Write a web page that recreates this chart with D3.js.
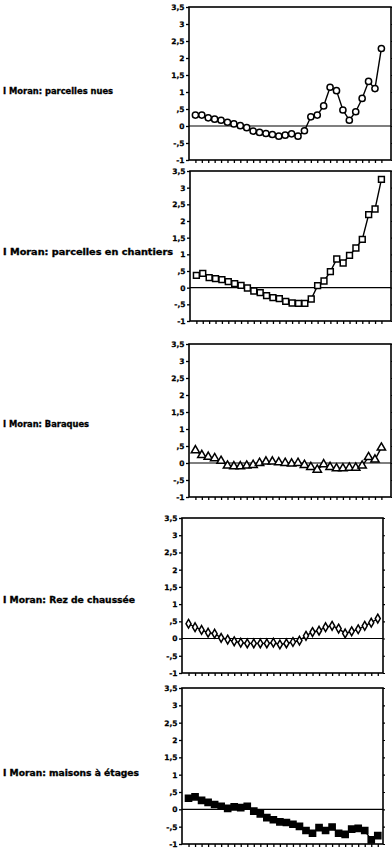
<!DOCTYPE html>
<html>
<head>
<meta charset="utf-8">
<script src="https://cdn.jsdelivr.net/npm/d3@7"></script>
<style>
  html, body { margin: 0; padding: 0; background: #fff; }
  svg { display: block; }
  text { font-family: "DejaVu Sans", sans-serif; font-weight: bold; fill: #000; }
</style>
</head>
<body>
<svg id="chart" width="392" height="850"></svg>
<script>
// Spatial lag classes (x axis)
const lags = [1,2,3,4,5,6,7,8,9,10,11,12,13,14,15,16,17,18,19,20,21,22,23,24,25,26,27,28,29,30];

// Moran's I per lag, one array per land-use type
const parcellesNues = [0.32,0.32,0.24,0.2,0.17,0.11,0.06,0.01,-0.05,-0.15,-0.19,-0.22,-0.25,-0.3,-0.27,-0.23,-0.3,-0.14,0.27,0.32,0.59,1.14,1.04,0.47,0.17,0.42,0.81,1.31,1.1,2.28];
const parcellesChantiers = [0.37,0.43,0.3,0.27,0.24,0.18,0.12,0.07,-0.01,-0.1,-0.15,-0.24,-0.3,-0.33,-0.41,-0.46,-0.47,-0.47,-0.34,0.06,0.2,0.48,0.86,0.74,0.97,1.19,1.45,2.19,2.36,3.25];
const baraques = [0.37,0.23,0.18,0.14,0.06,-0.08,-0.1,-0.1,-0.08,-0.06,0,0.04,0.04,0.02,0,-0.02,0,-0.06,-0.12,-0.2,-0.04,-0.12,-0.16,-0.16,-0.14,-0.14,-0.08,0.17,0.1,0.45];
const rezChaussee = [0.43,0.33,0.25,0.17,0.14,0.02,-0.03,-0.08,-0.12,-0.14,-0.14,-0.14,-0.14,-0.12,-0.17,-0.14,-0.1,-0.06,0.08,0.19,0.23,0.33,0.37,0.29,0.15,0.21,0.27,0.37,0.46,0.58];
const maisonsEtages = [0.32,0.36,0.26,0.2,0.14,0.09,0.03,0.07,0.05,0.09,-0.05,-0.13,-0.24,-0.3,-0.36,-0.38,-0.43,-0.49,-0.61,-0.69,-0.53,-0.61,-0.51,-0.69,-0.72,-0.57,-0.55,-0.61,-0.88,-0.76];

const seriesNames = [
  "I Moran: parcelles nues",
  "I Moran: parcelles en chantiers",
  "I Moran: Baraques",
  "I Moran: Rez de chaussée",
  "I Moran: maisons à étages"
];

// y axis ticks and their printed labels
const yTickValues = [3.5, 3, 2.5, 2, 1.5, 1, 0.5, 0, -0.5, -1];
const yTickLabels = ["3,5", "3", "2,5", "2", "1,5", "1", ",5", "0", "-,5", "-1"];

// Panel layout: frame box, label placement, marker style
const panels = [
  { values: parcellesNues,      left: 189, right: 391, top: 7,   bottom: 160, xMax: 31.5, labelY: 94,  labelW: 110, symbol: d3.symbolCircle,   size: 30, fill: "#fff" },
  { values: parcellesChantiers, left: 190, right: 391, top: 171, bottom: 321, xMax: 31.5, labelY: 255, labelW: 170, symbol: d3.symbolSquare,   size: 34, fill: "#fff" },
  { values: baraques,           left: 189, right: 391, top: 344, bottom: 497, xMax: 31.5, labelY: 427, labelW: 86,  symbol: d3.symbolTriangle, size: 30, fill: "#fff" },
  { values: rezChaussee,        left: 182, right: 383, top: 518, bottom: 673, xMax: 30.8, labelY: 603, labelW: 132, symbol: d3.symbolDiamond,  size: 22, fill: "#fff" },
  { values: maisonsEtages,      left: 182, right: 383, top: 688, bottom: 844, xMax: 30.8, labelY: 776, labelW: 136, symbol: d3.symbolSquare,   size: 38, fill: "#000" }
];

const svg = d3.select("#chart");

panels.forEach((p, i) => {
  const x = d3.scaleLinear().domain([0, p.xMax]).range([p.left, p.right]);
  const y = d3.scaleLinear().domain([-1, 3.5]).range([p.bottom, p.top]);
  const g = svg.append("g");

  // series label on the left
  g.append("text")
    .attr("x", 3)
    .attr("y", p.labelY)
    .attr("font-size", 8)
    .attr("textLength", p.labelW)
    .attr("lengthAdjust", "spacingAndGlyphs")
    .attr("stroke", "#000")
    .attr("stroke-width", 0.3)
    .text(seriesNames[i]);

  // left axis
  const yAxis = d3.axisLeft(y)
    .tickValues(yTickValues)
    .tickFormat((d, k) => yTickLabels[k])
    .tickSize(3)
    .tickPadding(1.5);
  const ya = g.append("g").attr("transform", `translate(${p.left},0)`).call(yAxis);
  ya.select(".domain").remove();
  ya.selectAll(".tick line").attr("stroke", "#000").attr("stroke-width", 1.3);
  ya.selectAll(".tick text")
    .attr("font-size", 7.5)
    .attr("font-family", "DejaVu Sans")
    .attr("font-weight", "bold")
    .attr("stroke", "#000")
    .attr("stroke-width", 0.25);

  // right-side tick marks
  const yr = d3.axisRight(y).tickValues(yTickValues).tickFormat("").tickSize(2);
  const yra = g.append("g").attr("transform", `translate(${p.right},0)`).call(yr);
  yra.select(".domain").remove();
  yra.selectAll(".tick line").attr("stroke", "#000").attr("stroke-width", 1.1);

  // bottom tick marks
  const xAxis = d3.axisBottom(x).tickValues(lags).tickFormat("").tickSize(3);
  const xa = g.append("g").attr("transform", `translate(0,${p.bottom})`).call(xAxis);
  xa.select(".domain").remove();
  xa.selectAll(".tick line").attr("stroke", "#000").attr("stroke-width", 1.3);

  // frame
  g.append("rect")
    .attr("x", p.left).attr("y", p.top)
    .attr("width", p.right - p.left).attr("height", p.bottom - p.top)
    .attr("fill", "none").attr("stroke", "#000").attr("stroke-width", 1.6);

  // zero reference line
  g.append("line")
    .attr("x1", p.left).attr("x2", p.right)
    .attr("y1", y(0)).attr("y2", y(0))
    .attr("stroke", "#000").attr("stroke-width", 1.1);

  // series line
  const line = d3.line().x((d, k) => x(lags[k])).y(d => y(d));
  g.append("path")
    .datum(p.values)
    .attr("d", line)
    .attr("fill", "none")
    .attr("stroke", "#000")
    .attr("stroke-width", 1.4);

  // markers
  g.selectAll(".mk")
    .data(p.values)
    .join("path")
    .attr("class", "mk")
    .attr("transform", (d, k) => `translate(${x(lags[k])},${y(d)})`)
    .attr("d", d3.symbol().type(p.symbol).size(p.size))
    .attr("fill", p.fill)
    .attr("stroke", "#000")
    .attr("stroke-width", 1.5);
});
</script>
</body>
</html>
